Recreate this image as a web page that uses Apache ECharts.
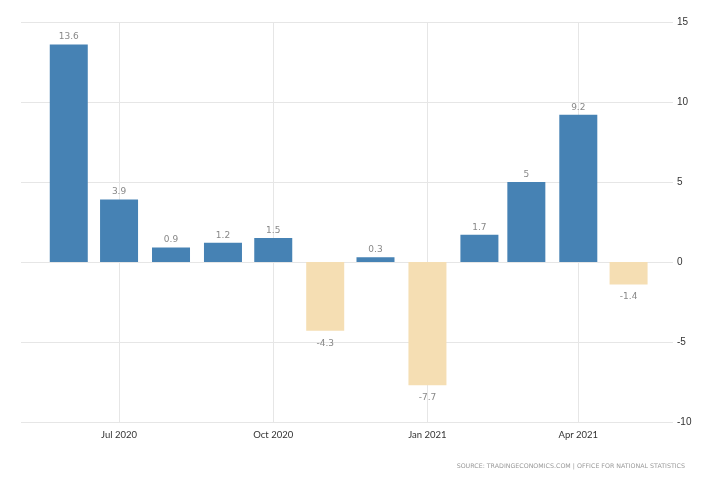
<!DOCTYPE html>
<html>
<head>
<meta charset="utf-8">
<script src="https://cdn.jsdelivr.net/npm/echarts@6/dist/echarts.min.js"></script>
<style>html,body{margin:0;padding:0;background:#fff}#c{width:728px;height:485px}</style>
</head>
<body>
<div id="c"></div>
<script>
var months = ['2020-06','2020-07','2020-08','2020-09','2020-10','2020-11','2020-12','2021-01','2021-02','2021-03','2021-04','2021-05'];
var values = [13.6, 3.9, 0.9, 1.2, 1.5, -4.3, 0.3, -7.7, 1.7, 5, 9.2, -1.4];
var tickMonths = ['2020-07','2020-10','2021-01','2021-04'];
var yTicks = [-10, -5, 0, 5, 10, 15];
var sourceText = 'SOURCE: TRADINGECONOMICS.COM | OFFICE FOR NATIONAL STATISTICS';

var MON = ['Jan','Feb','Mar','Apr','May','Jun','Jul','Aug','Sep','Oct','Nov','Dec'];
function ts(s){ var p = s.split('-'); return new Date(+p[0], +p[1]-1, p[2] ? +p[2] : 1).getTime(); }
var HALF_DAY = 12 * 3600 * 1000;

var chart = echarts.init(document.getElementById('c'), null, {renderer:'canvas'});
var data = months.map(function(m,i){
  var pos = values[i] >= 0;
  return {
    value: [ts(m), values[i]],
    itemStyle: {color: pos ? '#4682B4' : '#F5DEB3'},
    label: {position: pos ? 'top' : 'bottom', distance: pos ? 3 : 8}
  };
});
var tickVals = tickMonths.map(ts);

chart.setOption({
  animation: false,
  grid: {left: 21, right: 55, top: 22, bottom: 63, containLabel: false},
  xAxis: {
    type: 'value',
    min: ts('2020-05-03') + HALF_DAY,
    max: ts('2021-05-27') + HALF_DAY,
    axisLine: {show: false},
    axisTick: {show: true, customValues: tickVals, length: 5, lineStyle: {color: '#e6e6e6'}},
    splitLine: {show: true, lineStyle: {color: '#e6e6e6', width: 1}},
    axisLabel: {
      customValues: tickVals,
      color: '#333',
      fontFamily: 'Lato',
      fontSize: 9.5,
      margin: 8,
      formatter: function(v){ var d = new Date(v); return MON[d.getMonth()] + ' ' + d.getFullYear(); }
    }
  },
  yAxis: {
    type: 'value',
    position: 'right',
    min: yTicks[0],
    max: yTicks[yTicks.length-1],
    interval: 5,
    axisLine: {show: false},
    axisTick: {show: false},
    splitLine: {lineStyle: {color: '#e6e6e6', width: 1}},
    axisLabel: {color: '#333', fontFamily: 'Liberation Sans', fontSize: 10, margin: 4}
  },
  graphic: [{
    type: 'text',
    right: 43,
    top: 463,
    style: {text: sourceText, fill: '#999', font: '6.3px "DejaVu Sans"'}
  }],
  series: [{
    type: 'bar',
    barWidth: 38,
    data: data,
    label: {
      show: true,
      color: '#888',
      fontFamily: 'DejaVu Sans',
      fontSize: 9,
      formatter: function(p){ return String(p.value[1]); }
    }
  }]
});
</script>
</body>
</html>
